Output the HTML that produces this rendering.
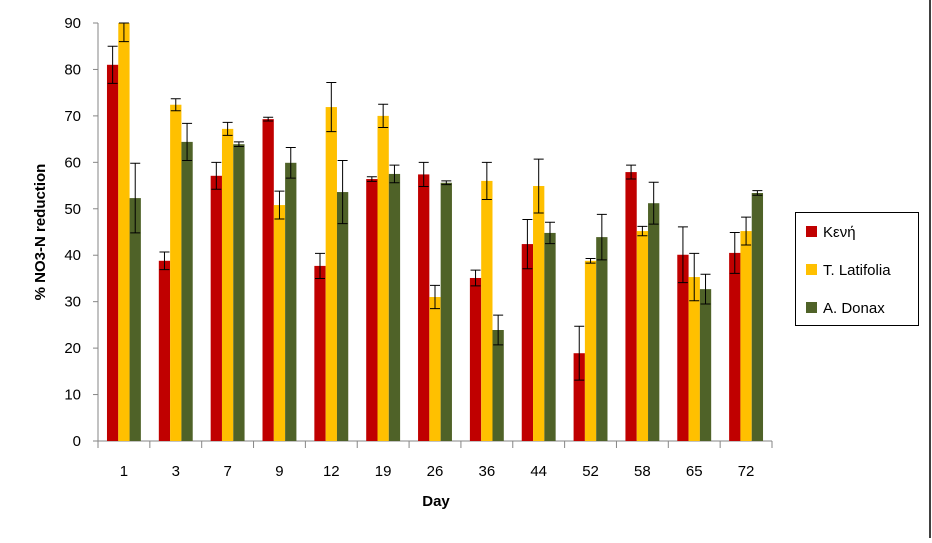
<!DOCTYPE html>
<html><head><meta charset="utf-8"><style>
body{margin:0;background:#fff;}
svg text{font-family:"Liberation Sans","DejaVu Sans",sans-serif;}
</style></head><body>
<svg id="chart" width="932" height="538" xmlns="http://www.w3.org/2000/svg">
<line x1="930" y1="0" x2="930" y2="538" stroke="#000" stroke-width="1.5"/>
<g id="plot"></g>
<text x="436" y="506" text-anchor="middle" font-size="15" font-weight="bold">Day</text>
<text transform="translate(45,232) rotate(-90)" text-anchor="middle" font-size="15" font-weight="bold">% NO3-N reduction</text>
<g>
<rect x="795.5" y="212.5" width="123" height="113" fill="#fff" stroke="#000" stroke-width="1"/>
<g><rect x="806" y="226" width="11" height="11" fill="#C00000"/><text x="823" y="237" font-size="15">Κενή</text></g>
<g><rect x="806" y="264" width="11" height="11" fill="#FFC000"/><text x="823" y="275" font-size="15">T. Latifolia</text></g>
<g><rect x="806" y="302" width="11" height="11" fill="#4F6228"/><text x="823" y="313" font-size="15">A. Donax</text></g>
</g>
</svg>
<script>
const categories=["1","3","7","9","12","19","26","36","44","52","58","65","72"];
const keni=[81.0,38.8,57.1,69.3,37.7,56.4,57.4,35.1,42.4,18.9,57.9,40.1,40.5];
const keniErr=[4,1.9,2.9,0.4,2.7,0.5,2.6,1.7,5.3,5.8,1.5,6,4.4];
const latifolia=[90,72.4,67.2,50.8,71.9,70,31,56,54.9,38.8,45.2,35.3,45.2];
const latifoliaErr=[4,1.3,1.4,3,5.3,2.5,2.5,4,5.8,0.5,1,5.1,3];
const donax=[52.3,64.4,63.9,59.9,53.6,57.5,55.6,23.9,44.8,43.9,51.2,32.7,53.4];
const donaxErr=[7.5,4,0.5,3.3,6.8,1.9,0.4,3.2,2.3,4.9,4.5,3.2,0.5];
const yTicks=[0,10,20,30,40,50,60,70,80,90];
const NS="http://www.w3.org/2000/svg";
const plot=document.getElementById('plot');
const X0=98,X1=772,Y0=441,Y1=23,YMAX=90;
const bw=(X1-X0)/categories.length;
const y=v=>Y0-(Math.min(v,YMAX))/YMAX*(Y0-Y1);
function mk(t,a){const e=document.createElementNS(NS,t);for(const k in a)e.setAttribute(k,a[k]);plot.appendChild(e);return e;}
// axes
let ax=mk('line',{x1:X0,y1:Y1,x2:X0,y2:Y0,stroke:'#868686','stroke-width':1});


let bx=mk('line',{x1:X0,y1:Y0,x2:X1,y2:Y0,stroke:'#868686','stroke-width':1});


yTicks.forEach(t=>{
  const yy=y(t);
  const l=mk('line',{x1:X0-5,y1:yy,x2:X0,y2:yy,stroke:'#868686'});
  
  
  const tx=mk('text',{x:X0-17,y:yy+5,'text-anchor':'end','font-size':15});
  tx.textContent=t;
  
  
});
for(let i=0;i<=categories.length;i++){
  const xx=X0+i*bw;
  const l=mk('line',{x1:xx,y1:Y0,x2:xx,y2:Y0+7,stroke:'#868686'});
  
  
}
const series=[[keni,keniErr,'#C00000','keni'],[latifolia,latifoliaErr,'#FFC000','latifolia'],[donax,donaxErr,'#4F6228','donax']];
const barW=11.3;
categories.forEach((c,i)=>{
  const cx=X0+(i+0.5)*bw;
  const tx=mk('text',{x:cx,y:476,'text-anchor':'middle','font-size':15});
  tx.textContent=c;
  
  
  series.forEach((s,j)=>{
    const v=s[0][i],e=s[1][i];
    const x=cx-1.5*barW+j*barW;
    const r=mk('rect',{x:x,y:y(v),width:barW,height:Y0-y(v),fill:s[2]});
    
    
    const mx=x+barW/2;
    const g=mk('path',{d:`M${mx},${y(v+e)}V${y(v-e)}M${mx-5},${y(v+e)}H${mx+5}M${mx-5},${y(v-e)}H${mx+5}`,stroke:'#000','stroke-width':1,fill:'none'});
    
    
  });
});
</script>
</body></html>
